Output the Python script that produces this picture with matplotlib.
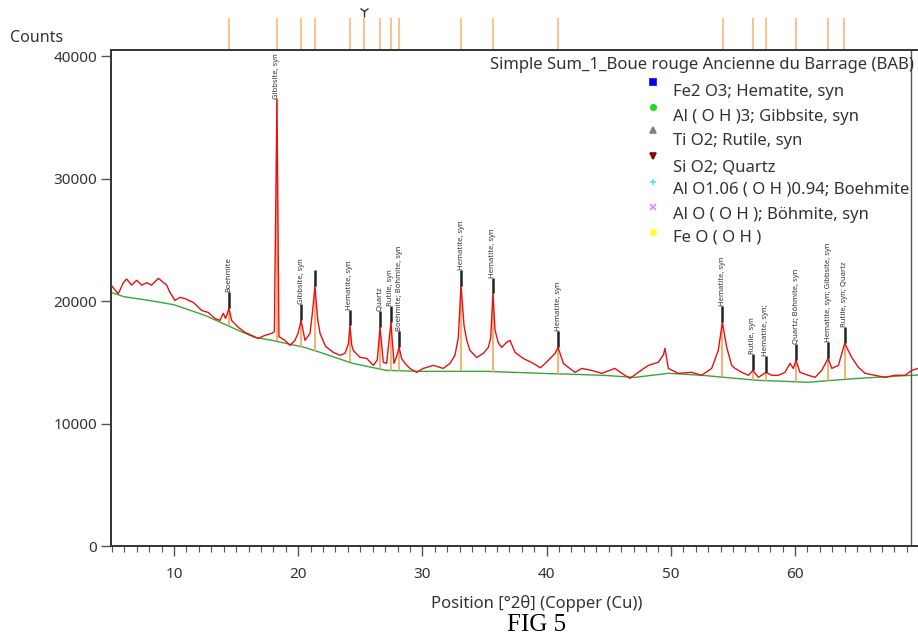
import numpy as np
import matplotlib
matplotlib.use("Agg")
from matplotlib import pyplot as plt
from matplotlib.ticker import MultipleLocator

plt.rcParams['font.family'] = ['Noto Sans', 'DejaVu Sans']

two_theta = [4.95, 5.25, 5.52, 5.92, 6.19, 6.59, 7.0, 7.4, 7.8, 8.2, 8.74, 9.06, 9.41, 9.68,
             10.08, 10.48, 10.89, 11.29, 11.55, 11.96, 12.23, 12.76, 13.3, 13.7, 13.97, 14.16,
             14.43, 14.64, 15.18, 15.72, 16.25, 16.79, 17.33, 17.87, 18.08, 18.29, 18.45, 18.94,
             19.34, 19.74, 20.0, 20.23, 20.55, 20.95, 21.14, 21.35, 21.57, 21.76, 22.2, 22.83,
             23.37, 23.77, 24.04, 24.17, 24.31, 24.44, 24.98, 25.51, 26.05, 26.37, 26.59, 26.85,
             27.12, 27.47, 27.71, 27.93, 28.12, 28.33, 28.6, 29.0, 29.54, 30.07, 30.88, 31.68,
             32.22, 32.62, 32.89, 33.11, 33.35, 33.57, 33.83, 34.37, 34.9, 35.31, 35.5, 35.68,
             35.85, 36.11, 36.38, 36.79, 37.05, 37.46, 38.12, 38.93, 39.5, 40.14, 40.68, 40.92,
             41.35, 41.75, 42.29, 42.83, 43.63, 44.44, 45.5, 46.05, 46.71, 47.38, 48.19, 48.99,
             49.4, 49.53, 49.8, 50.6, 51.68, 52.48, 53.29, 53.82, 54.15, 54.5, 54.9, 55.17,
             55.71, 56.25, 56.6, 57.05, 57.66, 58.12, 58.66, 59.19, 59.6, 59.86, 60.08, 60.4,
             61.07, 61.61, 62.15, 62.66, 62.96, 63.49, 64.0, 64.56, 65.1, 65.64, 66.44, 67.25,
             68.05, 68.86, 69.4, 69.9]
counts = [21300, 20900, 20600, 21500, 21800, 21300, 21700, 21300, 21500, 21300, 21850, 21600, 21300, 20700,
          20050, 20300, 20200, 20000, 19900, 19500, 19230, 19070, 18580, 18420, 19000, 18580,
          19400, 18420, 17850, 17440, 17200, 16950, 17200, 17360, 17500, 36500, 17100, 16790,
          16380, 16790, 17400, 18420, 16790, 17360, 19000, 21200, 18500, 17360, 16300, 15810,
          15570, 15730, 16500, 18010, 16400, 15970, 15400, 15320, 14750, 15200, 17850, 15000,
          14910, 18260, 14910, 15500, 16220, 15300, 14910, 14500, 14180, 14500, 14750, 14500,
          14910, 15570, 17000, 21270, 18000, 16800, 15970, 15400, 15730, 16220, 17000, 20620,
          17600, 16600, 16220, 16630, 16790, 15810, 15320, 14910, 14550, 15160, 15730, 16220,
          14910, 14590, 14180, 14500, 14340, 14100, 14500, 14100, 13690, 14180, 14750, 15000,
          15600, 16140, 14500, 14100, 14180, 13940, 14500, 15970, 18260, 16220, 14750, 14500,
          14180, 13940, 14340, 13770, 14180, 13940, 13940, 14180, 14910, 14500, 15160, 14180,
          13940, 13770, 14340, 15320, 14500, 14750, 16550, 15400, 14590, 14100, 13940, 13770,
          13940, 13940, 14340, 14500]

# fitted background
bg_theta = [4.95, 6.0, 8.0, 10.0, 12.5, 15.2, 16.5, 17.9, 20.5, 21.8, 24.4, 27.1, 29.8, 35.2,
            39.5, 44.5, 47.1, 49.8, 52.5, 55.2, 57.0, 61.0, 65.1, 69.4, 69.9]
bg_counts = [20700, 20350, 20050, 19700, 18830, 17600, 17030, 16790, 16220, 15800, 14910, 14340, 14260, 14260,
             14100, 13940, 13770, 14100, 13940, 13690, 13530, 13370, 13690, 13940, 13950]

# identified peaks
peak_pos = [14.43, 18.29, 20.23, 21.35, 24.17, 26.59, 27.47, 28.12, 33.11, 35.68, 40.92,
            54.15, 56.6, 57.66, 60.08, 62.66, 64.0]
peak_top = [19400, 36500, 18420, 21200, 18010, 17850, 18260, 16220, 21270, 20620, 16220,
            18260, 14340, 14180, 15160, 15320, 16550]
peak_names = ["Boehmite", "Gibbsite, syn", "Gibbsite, syn", "", "Hematite, syn", "Quartz",
              "Rutile, syn", "Boehmite; Böhmite, syn", "Hematite, syn", "Hematite, syn",
              "Hematite, syn", "Hematite, syn", "Rutile, syn", "Hematite, syn;",
              "Quartz; Böhmite, syn", "Hematite, syn; Gibbsite, syn", "Rutile, syn; Quartz"]

# reference sticks shown above the plot
stick_pos = [14.43, 18.29, 20.23, 21.35, 24.17, 25.3, 26.59, 27.47, 28.12, 33.11, 35.68,
             40.92, 54.2, 56.62, 57.66, 60.08, 62.66, 63.94]

legend_names = ["Fe2 O3; Hematite, syn", "Al ( O H )3; Gibbsite, syn", "Ti O2; Rutile, syn",
                "Si O2; Quartz", "Al O1.06 ( O H )0.94; Boehmite", "Al O ( O H ); Böhmite, syn",
                "Fe O ( O H )"]
legend_markers = ['s', 'o', '^', 'v', '+', 'x', 'o']
legend_colors = ['#0000ee', '#22dd22', '#808080', '#8b0000', '#66ddff', '#dd88ee', '#ffff33']

W, H = 918, 637
fig = plt.figure(figsize=(W / 100, H / 100), dpi=100)
ax = fig.add_axes([111 / W, 1 - 546 / H, (W - 111) / W, 496 / H])

ax.plot(bg_theta, bg_counts, color='#3aa53a', lw=1.0, zorder=2)
bg_at_peak = np.interp(peak_pos, bg_theta, bg_counts)
ax.vlines(peak_pos, bg_at_peak, peak_top, color='#f7a35c', lw=1.2, zorder=3)
ax.plot(two_theta, counts, color='#e81010', lw=1.0, zorder=4)

tick_len = 1300
for pos, top, name in zip(peak_pos, peak_top, peak_names):
    if pos == 18.29:
        # strongest line: label sits right on top of the peak
        ax.text(pos, top, name, rotation=90, ha='center', va='bottom', fontsize=5.5, color='#333')
        continue
    ax.vlines(pos, top, top + tick_len, color='#222', lw=1.8, zorder=5)
    if name:
        ax.text(pos, top + tick_len, name, rotation=90, ha='center', va='bottom', fontsize=5.5, color='#333')

trans = ax.get_xaxis_transform()
ax.vlines(stick_pos, 1.0, 1.065, transform=trans, color='#f9b87a', lw=1.2, clip_on=False)
ax.plot([25.3], [1.078], marker='1', color='#333', ms=8, transform=trans, clip_on=False)
ax.axvline(69.34, color='#555', lw=1.0)

ax.set_xlim(4.93, 69.9)
ax.set_ylim(0, 40500)
ax.xaxis.set_major_locator(MultipleLocator(10))
ax.xaxis.set_minor_locator(MultipleLocator(1))
ax.yaxis.set_major_locator(MultipleLocator(10000))
ax.tick_params(axis='both', which='major', length=7, width=1, color='#555', labelsize=11,
               labelcolor='#333')
ax.tick_params(axis='x', which='minor', length=4, width=0.8, color='#555')
ax.tick_params(axis='x', pad=8)
ax.tick_params(axis='y', pad=3)
for side in ['left', 'bottom', 'top']:
    ax.spines[side].set_color('#333')
    ax.spines[side].set_linewidth(1.4)
ax.spines['right'].set_visible(False)

fig.text(10 / W, 1 - 38 / H, 'Counts', fontsize=11.5, color='#333', va='center')
fig.text(537 / W, 1 - 603 / H, 'Position [°2θ] (Copper (Cu))', fontsize=12, color='#333',
         ha='center', va='center')
fig.text(537 / W, 1 - 625 / H, 'FIG 5', fontsize=18, family='Liberation Serif',
         ha='center', va='center')

# legend drawn by hand, like the instrument software
fig.text(490 / W, 1 - 65 / H, 'Simple Sum_1_Boue rouge Ancienne du Barrage (BAB)',
         fontsize=12, color='#333', va='center')
mark_y = [82, 107, 130, 156, 182, 207, 232]
text_y = [92, 117, 141, 167, 190, 215, 238]
for name, m, c, my, ty in zip(legend_names, legend_markers, legend_colors, mark_y, text_y):
    fig.lines.append(plt.Line2D([653 / W], [1 - my / H], marker=m, color=c, ms=4,
                                mew=1.2, ls='none', transform=fig.transFigure))
    fig.text(673 / W, 1 - ty / H, name, fontsize=12, color='#333', va='center')

fig.savefig('out.png', dpi=100)
